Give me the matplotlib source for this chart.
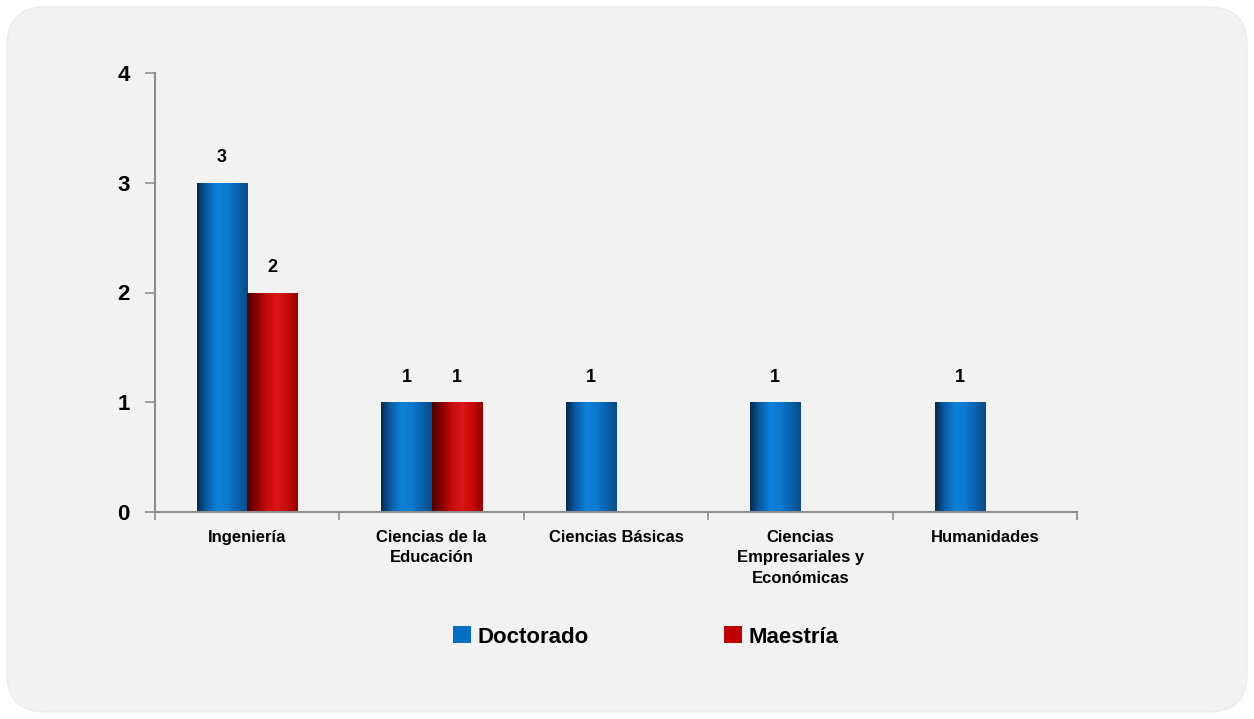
import matplotlib
matplotlib.use("Agg")
import matplotlib.pyplot as plt
import numpy as np
from matplotlib.patches import FancyBboxPatch, Patch
from matplotlib.transforms import IdentityTransform
from matplotlib.colors import LinearSegmentedColormap

categories = ["Ingeniería", "Ciencias de la\nEducación", "Ciencias Básicas",
              "Ciencias\nEmpresariales y\nEconómicas", "Humanidades"]
doctorado = [3, 1, 1, 1, 1]
maestria = [2, 1, 0, 0, 0]
yticks = [0, 1, 2, 3, 4]

plt.rcParams['font.family'] = ['Liberation Sans Narrow', 'Liberation Sans', 'DejaVu Sans']
plt.rcParams['font.weight'] = 'bold'

fig = plt.figure(figsize=(12.54, 7.19), dpi=100)
fig.patch.set_facecolor('white')
bg = FancyBboxPatch((7, 7), 1240, 705, boxstyle="round,pad=0,rounding_size=38",
                    transform=IdentityTransform(), facecolor='#f2f2f2',
                    edgecolor='#eaeaea', linewidth=0.8, zorder=-5)
fig.patches.append(bg)

ax = fig.add_axes([155/1254, 1-512/719, (1077-155)/1254, (512-73)/719])
ax.set_facecolor('none')
ax.set_zorder(2)

x = np.arange(len(categories))
w = 0.272
bars_d = ax.bar(x - w/2, doctorado, w, color='#0070c0', zorder=2)
bars_m = ax.bar(x + w/2, maestria, w, color='#c00000', zorder=2)

cmap_b = LinearSegmentedColormap.from_list('b', ['#06294d', '#0b5fa8', '#0c80d8', '#0b7ad0', '#0a62ac', '#084a84'])
cmap_r = LinearSegmentedColormap.from_list('r', ['#4a0000', '#8c0000', '#c80c0c', '#da1616', '#c80a0a', '#900000'])
grad = np.linspace(0, 1, 256).reshape(1, -1)

ax.set_xlim(-0.5, len(categories) - 0.5)
ax.set_ylim(0, 4)
for bars, cm, vals in ((bars_d, cmap_b, doctorado), (bars_m, cmap_r, maestria)):
    for b, v in zip(bars, vals):
        if v <= 0:
            b.set_visible(False)
            continue
        bb = b.get_bbox()
        im = ax.imshow(grad, cmap=cm, aspect='auto',
                       extent=(bb.x0, bb.x1, bb.y0, bb.y1), zorder=2.5)
        im.set_clip_path(b)
        b.set_facecolor('none')
        b.set_edgecolor('none')
        ax.text(b.get_x() + b.get_width()/2, v + 0.15, str(v), ha='center',
                va='bottom', fontsize=13, fontweight='bold')
ax.set_xlim(-0.5, len(categories) - 0.5)
ax.set_ylim(0, 4)

for s in ['top', 'right']:
    ax.spines[s].set_visible(False)
for s in ['left', 'bottom']:
    ax.spines[s].set_color('#8c8c8c')
    ax.spines[s].set_linewidth(1.5)

ax.set_yticks(yticks)
ax.set_yticklabels([str(t) for t in yticks], fontsize=16, fontweight='bold')
ax.tick_params(axis='y', length=7, width=1.2, color='#8c8c8c', pad=11)
ax.set_xticks(np.arange(-0.5, len(categories)), minor=False)
ax.set_xticklabels([])
ax.tick_params(axis='x', length=6, width=1.2, color='#8c8c8c', direction='out')
ax.set_xticks(x, minor=True)
ax.set_xticklabels(categories, minor=True, fontsize=12, fontweight='bold', linespacing=1.45)
ax.tick_params(axis='x', which='minor', length=0, pad=13)

handles = [Patch(facecolor='#0070c0', label='Doctorado'),
           Patch(facecolor='#c00000', label='Maestría')]
leg = fig.legend(handles=handles, ncol=2, loc='center', bbox_to_anchor=(646/1254, 1-637/719),
                 frameon=False, prop={'size': 16, 'weight': 'bold'},
                 handlelength=0.8, handleheight=0.8, handletextpad=0.3, columnspacing=6.1)

fig.savefig('out.png', dpi=100)
